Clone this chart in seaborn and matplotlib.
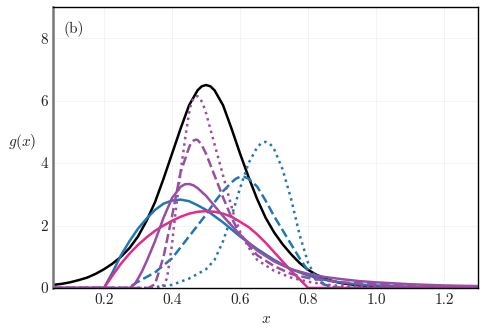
import numpy as np
import pandas as pd
import matplotlib
matplotlib.use("Agg")
import matplotlib.pyplot as plt
import seaborn as sns

# values
x_black = [0.05, 0.075, 0.10, 0.125, 0.15, 0.175, 0.20, 0.225, 0.25, 0.275, 0.30, 0.325, 0.35,
           0.375, 0.40, 0.425, 0.45, 0.475, 0.4875, 0.50, 0.5125, 0.525, 0.55, 0.575, 0.60,
           0.625, 0.65, 0.675, 0.70, 0.725, 0.75, 0.775, 0.80, 0.825, 0.85, 0.875, 0.90,
           0.95, 1.00, 1.10, 1.20, 1.30]
y_black = [0.10, 0.13, 0.18, 0.25, 0.33, 0.45, 0.60, 0.78, 1.00, 1.28, 1.65, 2.15, 2.75,
           3.50, 4.30, 5.10, 5.85, 6.33, 6.46, 6.50, 6.46, 6.33, 5.85, 5.10, 4.30,
           3.55, 2.85, 2.25, 1.78, 1.40, 1.08, 0.80, 0.58, 0.42, 0.30, 0.21, 0.15,
           0.08, 0.04, 0.01, 0.0, 0.0]

x_blue = [0.05, 0.20, 0.225, 0.25, 0.275, 0.30, 0.325, 0.35, 0.375, 0.40, 0.425, 0.45, 0.475, 0.50,
          0.55, 0.60, 0.65, 0.70, 0.75, 0.80, 0.85, 0.90, 0.95, 1.00, 1.10, 1.20, 1.30]
y_blue = [0.0, 0.0, 0.50, 1.05, 1.50, 1.90, 2.22, 2.50, 2.70, 2.80, 2.83, 2.78, 2.65, 2.50,
          2.10, 1.65, 1.25, 0.90, 0.60, 0.40, 0.26, 0.17, 0.11, 0.08, 0.04, 0.02, 0.01]

x_blue_dash = [0.05, 0.27, 0.30, 0.35, 0.40, 0.45, 0.50, 0.525, 0.55, 0.575, 0.5875, 0.60,
               0.6125, 0.625, 0.65, 0.675, 0.70, 0.725, 0.75, 0.775, 0.80, 0.825, 0.85,
               0.875, 0.90, 1.30]
y_blue_dash = [0.0, 0.0, 0.20, 0.50, 0.95, 1.65, 2.35, 2.75, 3.10, 3.38, 3.50, 3.56,
               3.56, 3.50, 3.25, 2.80, 2.30, 1.85, 1.40, 0.95, 0.55, 0.25, 0.10,
               0.03, 0.0, 0.0]

x_blue_dot = [0.05, 0.33, 0.40, 0.45, 0.50, 0.525, 0.55, 0.575, 0.60, 0.625, 0.65, 0.6625,
              0.675, 0.6875, 0.70, 0.725, 0.75, 0.775, 0.80, 0.825, 0.85, 0.875, 0.90, 1.30]
y_blue_dot = [0.0, 0.0, 0.10, 0.30, 0.60, 0.90, 1.50, 2.30, 3.20, 4.00, 4.50, 4.64,
              4.68, 4.62, 4.45, 3.80, 2.85, 1.70, 0.80, 0.30, 0.10, 0.03, 0.0, 0.0]

x_purple = [0.05, 0.275, 0.29, 0.30, 0.3125, 0.325, 0.3375, 0.35, 0.375, 0.40, 0.425, 0.4375,
            0.45, 0.4625, 0.475, 0.50, 0.55, 0.60, 0.65, 0.70, 0.75, 0.80, 0.85, 0.90, 0.95,
            1.00, 1.10, 1.20, 1.30]
y_purple = [0.0, 0.0, 0.12, 0.30, 0.55, 0.85, 1.17, 1.50, 2.25, 2.88, 3.24, 3.32,
            3.33, 3.29, 3.20, 2.95, 2.30, 1.70, 1.20, 0.85, 0.60, 0.45, 0.35, 0.28, 0.22,
            0.18, 0.12, 0.08, 0.06]

x_purple_dash = [0.05, 0.33, 0.35, 0.375, 0.40, 0.425, 0.45, 0.455, 0.46, 0.47, 0.475, 0.485,
                 0.50, 0.525, 0.55, 0.575, 0.60, 0.65, 0.70, 0.75, 0.80, 0.85, 0.90, 1.00,
                 1.10, 1.20, 1.30]
y_purple_dash = [0.0, 0.0, 0.12, 1.00, 2.30, 3.70, 4.50, 4.63, 4.71, 4.75, 4.74, 4.62,
                 4.30, 3.60, 2.90, 2.25, 1.70, 1.05, 0.70, 0.45, 0.32, 0.24, 0.18, 0.12,
                 0.08, 0.06, 0.04]

x_purple_dot = [0.05, 0.37, 0.385, 0.40, 0.41, 0.42, 0.43, 0.44, 0.45, 0.455, 0.46, 0.465,
                0.47, 0.475, 0.48, 0.49, 0.50, 0.52, 0.54, 0.56, 0.58, 0.60, 0.625, 0.65,
                0.70, 0.75, 0.80, 0.85, 0.90, 1.00, 1.10, 1.30]
y_purple_dot = [0.0, 0.0, 0.30, 1.40, 2.40, 3.30, 4.10, 4.90, 5.60, 5.85, 6.00, 6.10,
                6.15, 6.14, 6.10, 5.92, 5.60, 4.80, 4.00, 3.20, 2.40, 1.80, 1.30, 0.90,
                0.55, 0.33, 0.20, 0.11, 0.06, 0.03, 0.01, 0.0]

x_pink = [0.05, 0.20, 0.225, 0.25, 0.275, 0.30, 0.325, 0.35, 0.375, 0.40, 0.425, 0.45, 0.475,
          0.50, 0.525, 0.55, 0.575, 0.60, 0.625, 0.65, 0.675, 0.70, 0.725, 0.75, 0.775, 0.80, 1.30]
y_pink = [0.0, 0.0, 0.40, 0.78, 1.10, 1.38, 1.62, 1.83, 2.00, 2.15, 2.28, 2.38, 2.44,
          2.46, 2.44, 2.38, 2.28, 2.12, 1.95, 1.72, 1.45, 1.15, 0.85, 0.55, 0.28, 0.0, 0.0]

xticks = [0.2, 0.4, 0.6, 0.8, 1.0, 1.2]
yticks = [0, 2, 4, 6, 8]

blue = "#1f77b4"
purple = "#984ea3"
pink = "#e7298a"

sns.set_style("white")
plt.rcParams["font.family"] = "serif"
plt.rcParams["font.serif"] = ["cmr10"]
plt.rcParams["mathtext.fontset"] = "cm"
plt.rcParams["axes.formatter.use_mathtext"] = True

fig, ax = plt.subplots(figsize=(4.86, 3.31), dpi=100)
fig.subplots_adjust(left=0.109, right=0.984, bottom=0.13, top=0.979)

lw = 1.8
dot = (0, (1, 1.6))
kw = dict(ax=ax, lw=lw, sort=False, solid_joinstyle="round")
sns.lineplot(x=x_black, y=y_black, color="black", **kw)
sns.lineplot(x=x_blue, y=y_blue, color=blue, **kw)
sns.lineplot(x=x_blue_dash, y=y_blue_dash, color=blue, linestyle="--", **kw)
sns.lineplot(x=x_blue_dot, y=y_blue_dot, color=blue, linestyle=dot, **kw)
sns.lineplot(x=x_pink, y=y_pink, color=pink, **kw)
sns.lineplot(x=x_purple, y=y_purple, color=purple, **kw)
sns.lineplot(x=x_purple_dash, y=y_purple_dash, color=purple, linestyle="--", **kw)
sns.lineplot(x=x_purple_dot, y=y_purple_dot, color=purple, linestyle=dot, **kw)

ax.set_xlim(0.05, 1.3)
ax.set_ylim(0, 9)
ax.set_xticks(xticks)
ax.set_yticks(yticks)
ax.set_xticklabels([f"{t:.1f}" for t in xticks])
ax.set_yticklabels([str(t) for t in yticks])
ax.tick_params(direction="in", length=3, labelsize=11, width=0.8)
ax.grid(True, color="#f3f3f3", lw=0.6)

for side in ["top", "right", "bottom"]:
    ax.spines[side].set_color("black")
    ax.spines[side].set_linewidth(1.0)
ax.spines["left"].set_color("#777777")
ax.spines["left"].set_linewidth(1.8)

ax.set_xlabel("$x$", fontsize=11)
ax.set_ylabel("$g(x)$", fontsize=11, rotation=0, ha="right", va="center")
ax.yaxis.set_label_coords(-0.04, 0.52)
ax.text(0.025, 0.92, "(b)", transform=ax.transAxes, fontsize=11, ha="left", va="center")

fig.savefig("out.png", dpi=100)
